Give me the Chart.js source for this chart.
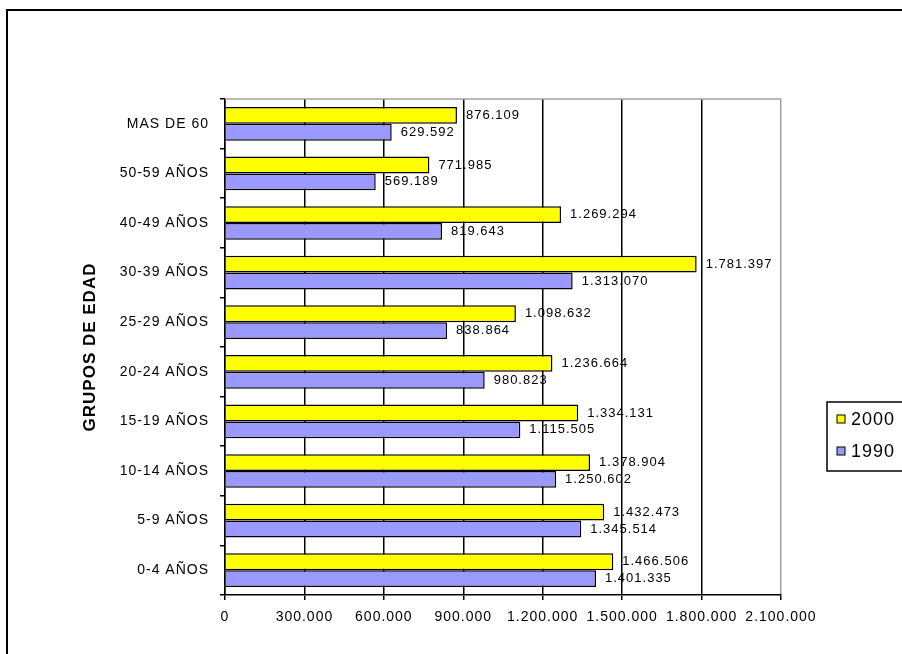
<!DOCTYPE html>
<html>
<head>
<meta charset="utf-8">
<script src="https://cdn.jsdelivr.net/npm/chart.js@4/dist/chart.umd.min.js"></script>
<style>
  html, body { margin: 0; padding: 0; background: #ffffff; overflow: hidden; }
  #frame { position: absolute; left: 6px; top: 9px; width: 1000px; height: 800px;
           border-left: 2px solid #000; border-top: 2px solid #000; }
  #wrap { position: absolute; left: 0; top: 0; width: 902px; height: 654px; }
</style>
</head>
<body>
<div id="frame"></div>
<div id="wrap"><canvas id="c" width="902" height="654"></canvas></div>
<script>
// Age groups, listed from the top row down
const categories = ['MAS DE 60', '50-59 AÑOS', '40-49 AÑOS', '30-39 AÑOS', '25-29 AÑOS',
                    '20-24 AÑOS', '15-19 AÑOS', '10-14 AÑOS', '5-9 AÑOS', '0-4 AÑOS'];
const years = ['2000', '1990'];
const values2000 = [876109, 771985, 1269294, 1781397, 1098632, 1236664, 1334131, 1378904, 1432473, 1466506];
const values1990 = [629592, 569189, 819643, 1313070, 838864, 980823, 1115505, 1250602, 1345514, 1401335];
const xTickLabels = ['0', '300.000', '600.000', '900.000', '1.200.000', '1.500.000', '1.800.000', '2.100.000'];
const axisTitle = 'GRUPOS DE EDAD';

const FONT = '"Liberation Sans", Arial, sans-serif';

// Spanish-style thousands grouping with dots
function fmt(v) {
  return String(Math.round(v)).replace(/\B(?=(\d{3})+(?!\d))/g, '.');
}
const xMax = 2100000;
const xStep = 300000;

const canvas = document.getElementById('c');

// Slightly open tracking for all chart text (set after the canvas is sized)
const tracking = {
  id: 'tracking',
  beforeUpdate(chart) { chart.ctx.letterSpacing = '1px'; },
  beforeDraw(chart) { chart.ctx.letterSpacing = '1px'; }
};

// Value labels at the end of every bar
const valueLabels = {
  id: 'valueLabels',
  afterDatasetsDraw(chart) {
    const ctx = chart.ctx;
    ctx.save();
    ctx.font = '13px ' + FONT;
    ctx.fillStyle = '#000';
    ctx.textAlign = 'left';
    ctx.textBaseline = 'middle';
    chart.data.datasets.forEach((ds, di) => {
      chart.getDatasetMeta(di).data.forEach((bar, i) => {
        ctx.fillText(fmt(ds.data[i]), bar.x + 9, bar.y);
      });
    });
    ctx.restore();
  }
};

// Grey top edge of the plot area
const plotFrame = {
  id: 'plotFrame',
  beforeDatasetsDraw(chart) {
    const {ctx, chartArea: a} = chart;
    ctx.save();
    ctx.strokeStyle = '#a0a0a0';
    ctx.lineWidth = 1.5;
    ctx.beginPath();
    ctx.moveTo(a.left, a.top);
    ctx.lineTo(a.right, a.top);
    ctx.stroke();
    ctx.restore();
  }
};

// Boxed legend to the right of the plot
const boxLegend = {
  id: 'boxLegend',
  afterDraw(chart) {
    const ctx = chart.ctx;
    const a = chart.chartArea;
    const bx = a.right + 46, by = 402, bw = 90, bh = 69;
    ctx.save();
    ctx.fillStyle = '#fff';
    ctx.fillRect(bx, by, bw, bh);
    ctx.strokeStyle = '#000';
    ctx.lineWidth = 1.5;
    ctx.strokeRect(bx, by, bw, bh);
    ctx.font = '18px ' + FONT;
    ctx.textBaseline = 'middle';
    chart.data.datasets.forEach((ds, i) => {
      const cy = by + 17 + i * 32;
      ctx.fillStyle = ds.backgroundColor;
      ctx.fillRect(bx + 10, cy - 4, 8, 8);
      ctx.strokeStyle = '#000';
      ctx.lineWidth = 1;
      ctx.strokeRect(bx + 10, cy - 4, 8, 8);
      ctx.fillStyle = '#000';
      ctx.fillText(ds.label, bx + 24, cy + 1);
    });
    ctx.restore();
  }
};

new Chart(canvas, {
  type: 'bar',
  data: {
    labels: categories,
    datasets: [
      { label: years[0], data: values2000, backgroundColor: '#ffff00', borderColor: '#000', borderWidth: 1.5,
        categoryPercentage: 0.68, barPercentage: 1.0 },
      { label: years[1], data: values1990, backgroundColor: '#9999ff', borderColor: '#000', borderWidth: 1.5,
        categoryPercentage: 0.68, barPercentage: 1.0 }
    ]
  },
  options: {
    indexAxis: 'y',
    responsive: false,
    animation: false,
    layout: { padding: { top: 99, right: 121, left: 0, bottom: 0 } },
    plugins: { legend: { display: false }, tooltip: { enabled: false } },
    scales: {
      x: {
        min: 0, max: xMax,
        afterBuildTicks(scale) {
          scale.ticks = xTickLabels.map((t, i) => ({ value: i * xStep }));
        },
        afterFit(scale) { scale.height = 59; },
        ticks: {
          callback: (v, i) => xTickLabels[i],
          color: '#000', font: { size: 14, family: FONT }, padding: 9, maxRotation: 0, autoSkip: false
        },
        grid: {
          color: ctx => (ctx.index === xTickLabels.length - 1 ? '#a0a0a0' : '#000'),
          lineWidth: 1.5, tickLength: 5, tickColor: '#000', drawTicks: true
        },
        border: { color: '#000', width: 1.5 }
      },
      y: {
        afterFit(scale) { scale.width = 225; },
        ticks: { color: '#000', font: { size: 14, family: FONT }, padding: 11, autoSkip: false },
        grid: { offset: true, drawOnChartArea: false, drawTicks: true, tickLength: 5, tickColor: '#000', lineWidth: 1.5 },
        border: { color: '#000', width: 1.5 },
        title: { display: true, text: axisTitle, color: '#000',
                 font: { size: 17, weight: 'bold', family: FONT }, padding: { top: 80, bottom: 0 } }
      }
    }
  },
  plugins: [tracking, valueLabels, plotFrame, boxLegend]
});
</script>
</body>
</html>
